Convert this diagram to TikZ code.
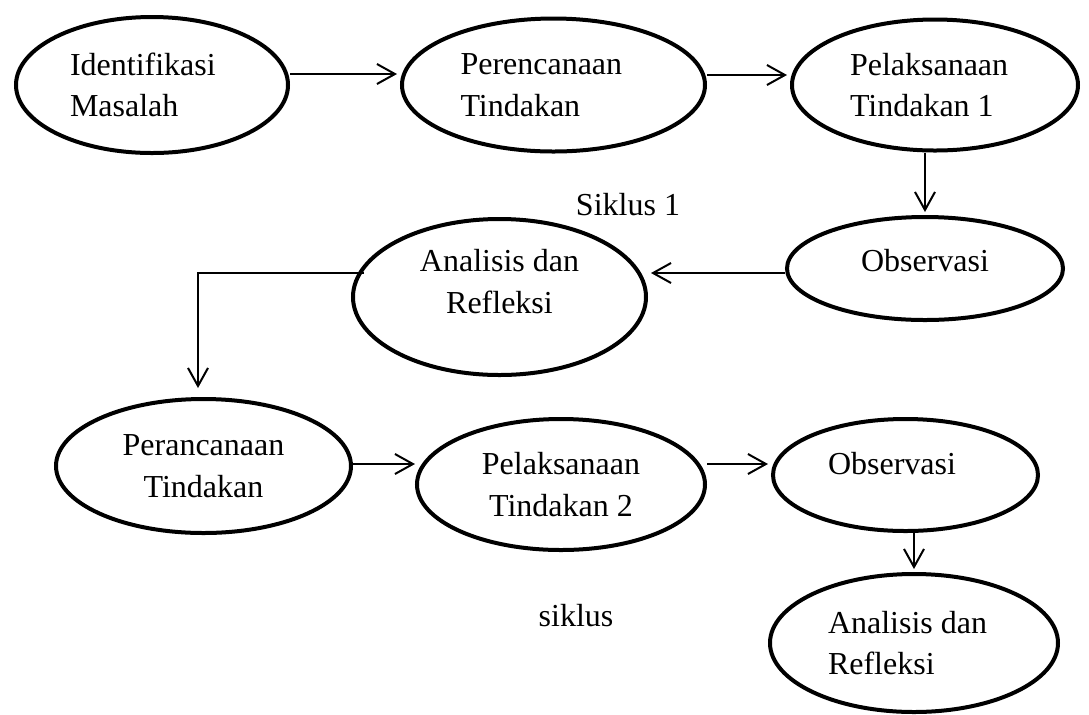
\documentclass[tikz,border=0pt]{standalone}
\usepackage{fontspec}
\setmainfont{Liberation Serif}
\usepackage{tikz}
\usetikzlibrary{positioning, arrows.meta, shapes.geometric}

\tikzset{
    fase/.style={draw, ellipse, line width=2pt, inner sep=0pt,
        font=\fontsize{16pt}{20.75pt}\selectfont},
    ket/.style={inner sep=0pt, font=\fontsize{16pt}{20.75pt}\selectfont},
    panah/.style={-{Straight Barb[length=9pt,width=10pt]}, line width=1pt, shorten >=1.5pt}
}

\begin{document}
\begin{tikzpicture}[x=0.5pt, y=-0.5pt]
                \useasboundingbox (0,0) rectangle (1089,714);

                % siklus 1
                \node [fase, minimum width=136pt, minimum height=68pt, text width=82pt, align=flush left] (ID) at (152,85) {Identifikasi\\Masalah};
                \node [fase, right=55pt of ID, minimum width=151.5pt, minimum height=66.5pt, text width=93pt, align=flush left] (RT) {Perencanaan\\Tindakan};
                \node [fase, right=41.5pt of RT, minimum width=143pt, minimum height=65.5pt, text width=85pt, align=flush left] (PT1) {Pelaksanaan\\Tindakan 1};
                \node [fase, minimum width=138pt, minimum height=51.5pt, text depth=8.5pt] (OB1) at (925,268.5) {Observasi};
                \node [fase, minimum width=146.5pt, minimum height=78pt, align=center] (AR1) at (499.5,297) {Analisis dan\\Refleksi\rule[-15.5pt]{0pt}{0pt}};
                \node [ket] (S1) at (628,205) {Siklus 1};

                % siklus 2
                \node [fase, minimum width=147.5pt, minimum height=67pt, align=center] (RT2) at (203.5,466) {Perancanaan\\Tindakan};
                \node [fase, minimum width=144pt, minimum height=65.5pt, align=center] (PT2) at (561,484.5) {Pelaksanaan\\Tindakan 2};
                \node [fase, minimum width=132.5pt, minimum height=56pt, text width=77.5pt, align=flush left, text depth=12pt] (OB2) at (905.5,475) {Observasi};
                \node [fase, minimum width=144pt, minimum height=69pt, text width=86pt, align=flush left] (AR2) at (914,643) {Analisis dan\\Refleksi};
                \node [ket] (S2) at (576,616) {siklus};

                \draw[panah] ([yshift=5.5pt]ID.east) -- ([yshift=5.5pt]ID.east -| RT.west);
                \draw[panah] ([yshift=5pt]RT.east) -- ([yshift=5pt]RT.east -| PT1.west);
                \draw[panah] (PT1.south -| OB1.north) -- (OB1.north);
                \draw[panah] ([yshift=-2.25pt]OB1.west) -- ([yshift=-2.25pt]OB1.west -| AR1.east);
                \draw[panah, shorten >=4.5pt] ([xshift=6.5pt,yshift=12pt]AR1.west) -| ([xshift=-2.75pt]RT2.north);
                \draw[panah, shorten >=0pt] ([yshift=1pt]RT2.east) -- ([yshift=1pt]RT2.east -| PT2.west);
                \draw[panah] ([yshift=5.5pt]OB2.west -| PT2.east) -- ([yshift=5.5pt]OB2.west);
                \draw[panah] (OB2.south -| AR2.north) -- (AR2.north);
            \end{tikzpicture}
\end{document}
